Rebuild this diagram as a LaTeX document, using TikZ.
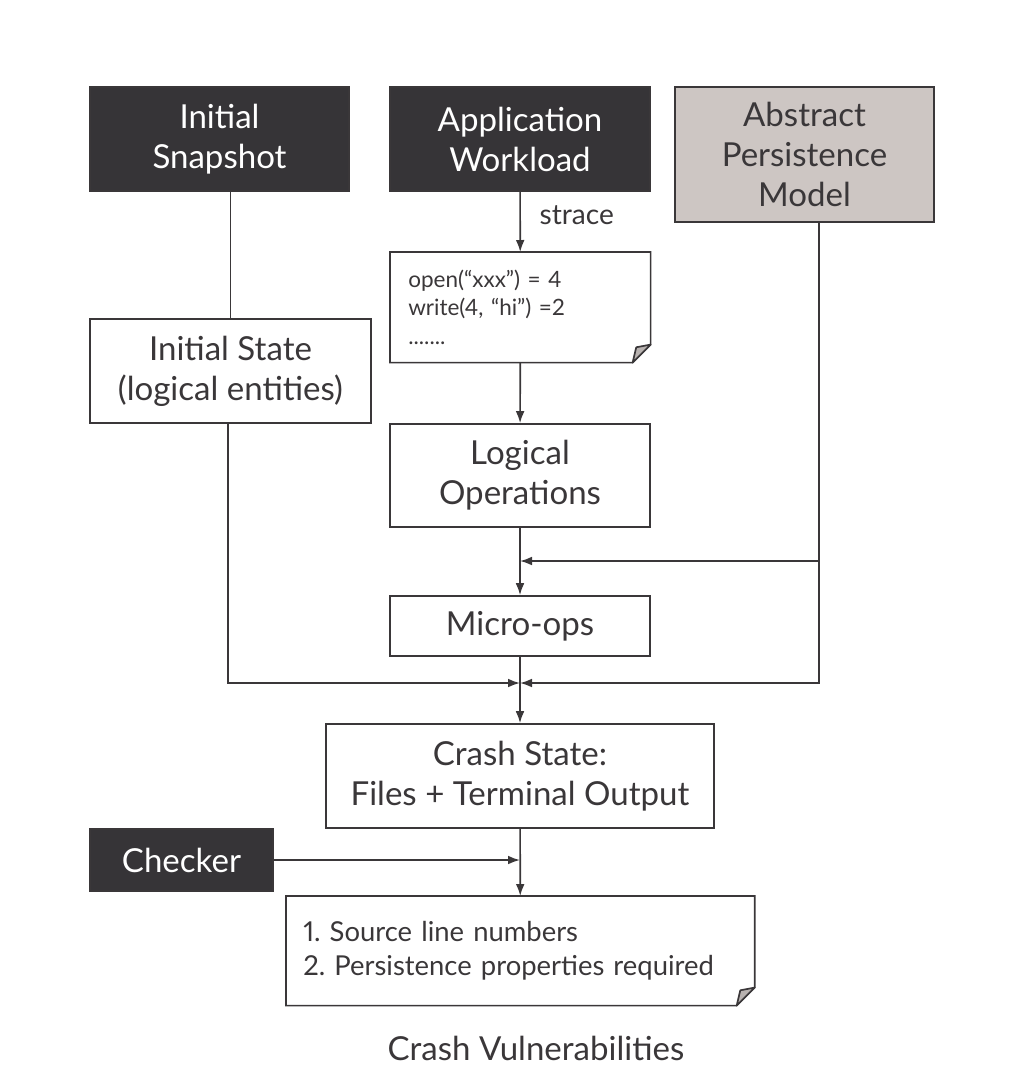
\documentclass[tikz,border=0pt]{standalone}
\usepackage{fontspec}
\setmainfont{Lato}[Numbers=Proportional]
\usetikzlibrary{arrows.meta, positioning}
\definecolor{ink}{HTML}{3A3739}
\definecolor{boxdark}{HTML}{363437}
\definecolor{boxgrey}{HTML}{CDC6C3}
\definecolor{foldgrey}{HTML}{B8B2B0}

\tikzset{
  box/.style={draw=ink, line width=1.2pt, align=center, text=ink, inner sep=0pt,
    font=\fontsize{23.5}{28.4}\selectfont},
  darkbox/.style={box, fill=boxdark, text=white},
  greybox/.style={box, fill=boxgrey},
  doc/.style={align=left, text=ink, inner ysep=0pt, anchor=north west},
  ln/.style={draw=ink, line width=1.2pt},
  arr/.style={ln, -{Latex[length=3mm, width=2.2mm]}}
}

\begin{document}
\frenchspacing
\begin{tikzpicture}[x=0.025cm, y=-0.025cm]
\useasboundingbox (0,0) rectangle (1024,1068);

\node[darkbox, minimum width=6.475cm, minimum height=2.6cm] (snap) at (219.5,139) {Initial\\Snapshot};
\node[darkbox, minimum width=6.5cm, minimum height=2.6cm] (work) at (520,139) {Application\\Workload};
\node[greybox, minimum width=6.475cm, minimum height=3.375cm] (apm) at (804.5,154.5) {Abstract\\Persistence\\Model};
\node[box, minimum width=7.025cm, minimum height=2.6cm] (state) at (230.5,371) {Initial State\\(logical entities)};
\node[doc, text width=5.6cm, inner xsep=0.45cm, minimum height=2.75cm,
  font=\fontsize{16}{20}\selectfont] (trace) at (390,252)
  {open(“xxx”) = 4\\write(4, “hi”) =2\\.......};
\node[box, minimum width=6.5cm, minimum height=2.575cm] (logic) at (520,475.5) {Logical\\Operations};
\node[box, minimum width=6.5cm, minimum height=1.5cm] (micro) at (520,626) {Micro-ops};
\node[box, minimum width=9.7cm, minimum height=2.6cm] (crash) at (520,776) {Crash State:\\Files + Terminal Output};
\node[darkbox, minimum width=4.575cm, minimum height=1.55cm] (checker) at (181.5,860) {Checker};
\node[doc, text width=10.85cm, inner xsep=0.425cm, minimum height=2.725cm,
  font=\fontsize{19.5}{24.5}\selectfont] (result) at (286,896)
  {1. Source line numbers\\2. Persistence properties required};
\node[text=ink, font=\fontsize{23.5}{28.4}\selectfont] (vuln) at (536,1048) {Crash Vulnerabilities};

\foreach \d/\f in {trace/0.45cm, result/0.45cm}{
  \draw[ln] (\d.north west) -- (\d.north east) -- ([yshift=\f]\d.south east)
    -- ([xshift=-\f]\d.south east) -- (\d.south west) -- cycle;
  \draw[ln, fill=foldgrey, line join=round] ([xshift=-\f]\d.south east) -- ([yshift=\f]\d.south east)
    -- ([shift={(-0.8*\f,0.85*\f)}]\d.south east) -- cycle;
}

\coordinate (j1) at (520,561);
\coordinate (j2) at (520,683);
\coordinate (k) at (819,561);

\draw[ln] (snap.south -| state.north) -- (state.north);
\draw[arr] (work) -- (trace) node[pos=0.38, right=0.35cm, text=ink, font=\fontsize{20}{24}\selectfont] {strace};
\draw[arr] (trace) -- (logic);
\draw[arr] (logic) -- (micro);
\draw[ln] (apm.south -| k) -- (k);
\draw[arr] (k) -- (j1);
\draw[arr] (k) |- (j2);
\draw[arr] (state.south -| 228,0) |- (j2);
\draw[arr] (micro) -- (crash);
\draw[arr] (crash) -- (result);
\draw[arr] (checker.east) -- (checker.east -| crash.south);
\end{tikzpicture}
\end{document}
